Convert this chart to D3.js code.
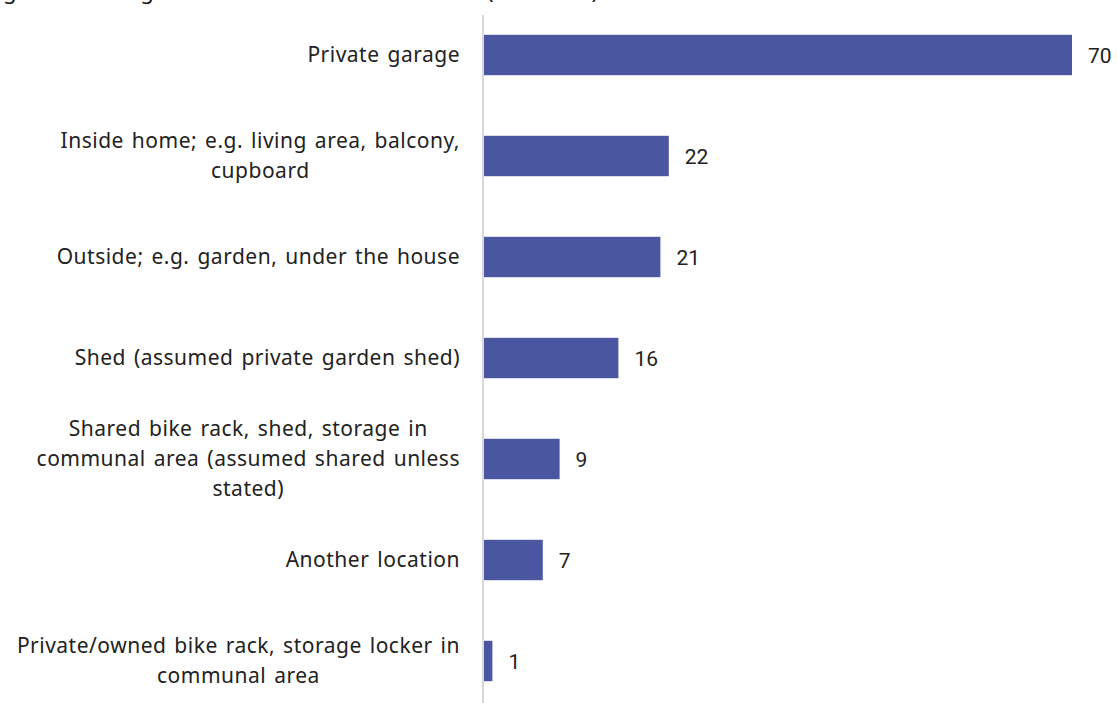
<!DOCTYPE html>
<html>
<head>
<meta charset="utf-8">
<script src="https://cdn.jsdelivr.net/npm/d3@7"></script>
<style>
  html, body { margin: 0; padding: 0; background: #fff; }
  svg { display: block; }
</style>
</head>
<body>
<div id="chart"></div>
<script>
// Where bikes are kept, share of respondents (%)
const categories = [
  "Private garage",
  "Inside home; e.g. living area, balcony,\ncupboard",
  "Outside; e.g. garden, under the house",
  "Shed (assumed private garden shed)",
  "Shared bike rack, shed, storage in\ncommunal area (assumed shared unless\nstated)",
  "Another location",
  "Private/owned bike rack, storage locker in\ncommunal area"
];
const values = [70, 22, 21, 16, 9, 7, 1];
const titleText = "Bike storage: all housing of the main bike when at home (% of total)";

const width = 1117, height = 703;
const margin = { left: 484, top: 4.5, bottom: -8.5 };

const svg = d3.select("#chart").append("svg")
  .attr("width", width)
  .attr("height", height);

const x = d3.scaleLinear()
  .domain([0, 70])
  .range([margin.left, margin.left + 588]);

const y = d3.scaleBand()
  .domain(categories)
  .range([margin.top, height - margin.bottom])
  .paddingInner(0.6)
  .paddingOuter(0.3);

// title, running off the top-left of the frame
const title = svg.append("text")
  .attr("x", 0)
  .attr("y", -1)
  .attr("font-family", "Noto Sans, sans-serif")
  .attr("font-size", 22)
  .attr("fill", "#111")
  .text(titleText);
const gIdx = titleText.indexOf("g");
const shift = title.node().getSubStringLength(0, gIdx);
title.attr("x", 3 - shift);

// vertical baseline
svg.append("line")
  .attr("x1", x(0) - 1).attr("x2", x(0) - 1)
  .attr("y1", 15).attr("y2", height)
  .attr("stroke", "#d9d9d9")
  .attr("stroke-width", 2);

// bars
svg.append("g").selectAll("rect")
  .data(values)
  .join("rect")
  .attr("x", x(0))
  .attr("y", (d, i) => y(categories[i]))
  .attr("width", d => x(d) - x(0))
  .attr("height", y.bandwidth())
  .attr("fill", "#4b56a0");

// value labels
svg.append("g").selectAll("text")
  .data(values)
  .join("text")
  .attr("x", d => x(d) + 16)
  .attr("y", (d, i) => y(categories[i]) + y.bandwidth() / 2)
  .attr("dy", "0.36em")
  .attr("font-family", "Roboto, sans-serif")
  .attr("font-size", 21)
  .attr("fill", "#222")
  .text(d => d);

// category labels: block right-aligned to the axis, lines centred inside it
const lineH = 30;
const labelRight = 460;
svg.append("g").selectAll("g")
  .data(categories)
  .join("g")
  .each(function (d) {
    const lines = d.split("\n");
    const cy = y(d) + y.bandwidth() / 2;
    const grp = d3.select(this);
    const texts = lines.map((ln, k) => grp.append("text")
      .attr("font-family", "Noto Sans, sans-serif")
      .attr("font-size", 21)
      .attr("letter-spacing", 0.5)
      .attr("word-spacing", 2)
      .attr("fill", "#222")
      .attr("y", cy + (k - (lines.length - 1) / 2) * lineH)
      .attr("dy", "0.35em")
      .text(ln));
    const widths = texts.map(t => t.node().getBBox().width);
    const maxW = d3.max(widths);
    texts.forEach(t => t.attr("text-anchor", "middle").attr("x", labelRight - maxW / 2));
  });
</script>
</body>
</html>
